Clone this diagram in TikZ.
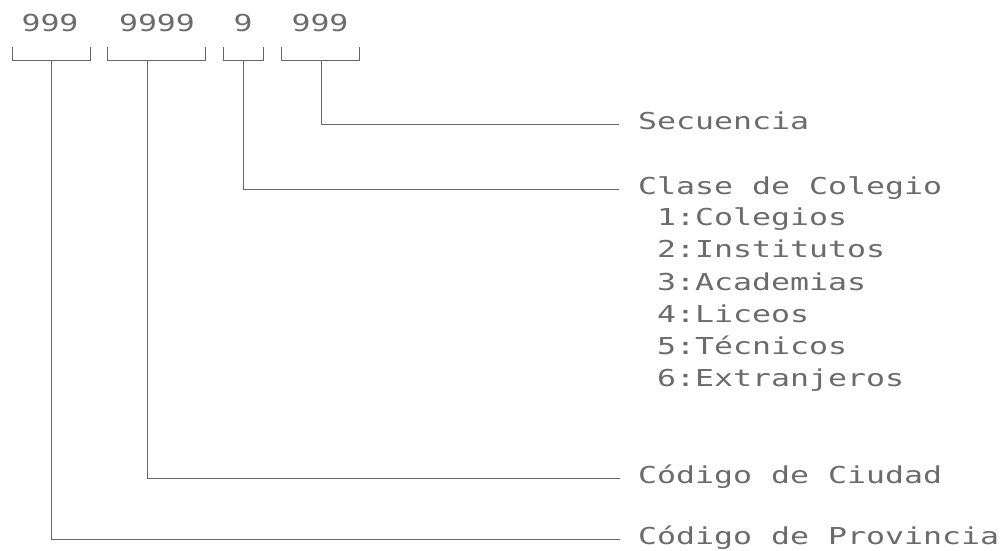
\documentclass[tikz,border=0pt]{standalone}
\usepackage{fontspec}
\newfontfamily\dotfont[FakeStretch=1.354]{DejaVu Sans Mono}
\begin{document}
\begin{tikzpicture}[x=1pt,y=-1pt,
  ln/.style={draw=black!60,line width=1pt},
  txt/.style={inner sep=0pt,text=black!58,font=\dotfont\fontsize{23.3pt}{23.3pt}\selectfont},
  lab/.style={txt,anchor=west,text height=10pt,text depth=0pt},
  item/.style={txt,anchor=base west}]
\useasboundingbox (0,0) rectangle (1006,551);
% digit groups
\node[txt,anchor=base] (d1) at (50,32) {999};
\node[txt,anchor=base] (d2) at (157,32) {9999};
\node[txt,anchor=base] (d3) at (243,32) {9};
\node[txt,anchor=base] (d4) at (320,32) {999};
% brackets
\draw[ln] (12,47) |- (90,61) -- (90,47);
\draw[ln] (107,47) |- (205,61) -- (205,47);
\draw[ln] (223,47) |- (263,61) -- (263,47);
\draw[ln] (281,47) |- (359,61) -- (359,47);
\coordinate (s1) at (51,61);
\coordinate (s2) at (147,61);
\coordinate (s3) at (243,61);
\coordinate (s4) at (321,61);
% labels
\node[lab] (sec) at (638,124) {Secuencia};
\node[lab] (cla) at (638,189) {Clase de Colegio};
\node[item] (i1) at (657,225) {1:Colegios};
\node[item] (i2) at (657,257) {2:Institutos};
\node[item] (i3) at (657,290) {3:Academias};
\node[item] (i4) at (657,322) {4:Liceos};
\node[item] (i5) at (657,354) {5:Técnicos};
\node[item] (i6) at (657,386) {6:Extranjeros};
\node[lab] (ciu) at (638,478) {Código de Ciudad};
\node[lab] (pro) at (638,539) {Código de Provincia};
% connectors
\draw[ln] (s4) |- ([xshift=-19pt]sec.west);
\draw[ln] (s3) |- ([xshift=-19pt]cla.west);
\draw[ln] (s2) |- ([xshift=-18pt]ciu.west);
\draw[ln] (s1) |- ([xshift=-18pt]pro.west);
\end{tikzpicture}
\end{document}
